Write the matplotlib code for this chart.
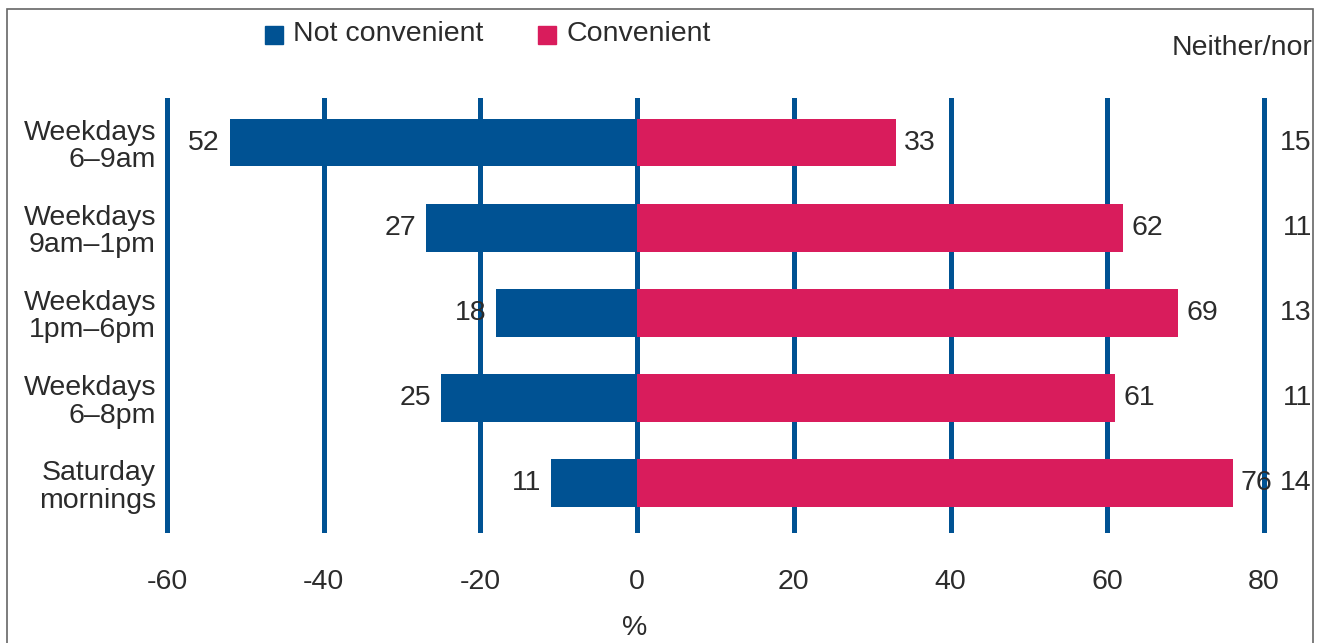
import matplotlib
matplotlib.use("Agg")
import matplotlib.pyplot as plt
from matplotlib.transforms import blended_transform_factory
from matplotlib.patches import Rectangle

categories = ["Weekdays\n6–9am", "Weekdays\n9am–1pm", "Weekdays\n1pm–6pm",
              "Weekdays\n6–8pm", "Saturday\nmornings"]
not_convenient = [52, 27, 18, 25, 11]
convenient = [33, 62, 69, 61, 76]
neither_nor = [15, 11, 13, 11, 14]
xticks = [-60, -40, -20, 0, 20, 40, 60, 80]

BLUE = "#005293"
RED = "#D91C5C"
TXT = "#2b2b2b"
FS = 20.5
plt.rcParams['font.family'] = ['Liberation Sans', 'DejaVu Sans']

W, H = 1324, 643
fig = plt.figure(figsize=(W / 100, H / 100), dpi=100)
ax = fig.add_axes([167 / W, 1 - 530 / H, (1264 - 167) / W, (530 - 100) / H])

y = list(range(len(categories)))
neg = [-v for v in not_convenient]
ax.barh(y, neg, height=0.56, color=BLUE, zorder=3)
ax.barh(y, convenient, height=0.56, color=RED, zorder=3)

ax.set_xlim(-60, 80)
ax.set_ylim(len(categories) - 0.45, -0.5)
ax.set_xticks(xticks)
ax.set_xticklabels([str(t) for t in xticks], fontsize=FS, color=TXT)
ax.set_yticks(y)
ax.set_yticklabels(categories, fontsize=FS, color=TXT, linespacing=1.08)
ax.tick_params(axis='both', length=0)
ax.tick_params(axis='x', pad=28)
ax.tick_params(axis='y', pad=8)
for s in ax.spines.values():
    s.set_visible(False)
for t in xticks:
    ax.axvline(t, color=BLUE, lw=3.6, zorder=1, clip_on=False)

for yi, v in zip(y, neg):
    ax.annotate(str(-v), (v, yi), xytext=(-7, 0), textcoords='offset points',
                ha='right', va='center', fontsize=FS, color=TXT, zorder=4)
for yi, v in zip(y, convenient):
    ax.annotate(str(v), (v, yi), xytext=(6, 0), textcoords='offset points',
                ha='left', va='center', fontsize=FS, color=TXT, zorder=4)

tr = blended_transform_factory(fig.transFigure, ax.transData)
for yi, v in zip(y, neither_nor):
    ax.text(1312 / W, yi, str(v), transform=tr, ha='right', va='center',
            fontsize=FS, color=TXT)
fig.text(1312 / W, 1 - 48 / H, "Neither/nor", ha='right', va='center',
         fontsize=FS, color=TXT)
fig.text(635 / W, 1 - 628 / H, "%", ha='center', va='center', fontsize=FS, color=TXT)

# legend
for x0, lab, col in [(265, "Not convenient", BLUE), (538, "Convenient", RED)]:
    fig.patches.append(Rectangle((x0 / W, 1 - 44 / H), 18 / W, 18 / H,
                                 transform=fig.transFigure, color=col))
    fig.text((x0 + 28) / W, 1 - 34 / H, lab, ha='left', va='center',
             fontsize=FS, color=TXT)

# frame
fig.patches.append(Rectangle((7 / W, -0.01), (1313 - 7) / W, 1 - 9 / H + 0.01,
                             transform=fig.transFigure, fill=False,
                             edgecolor="#666666", lw=1.2))

fig.savefig("out.png", dpi=100)
